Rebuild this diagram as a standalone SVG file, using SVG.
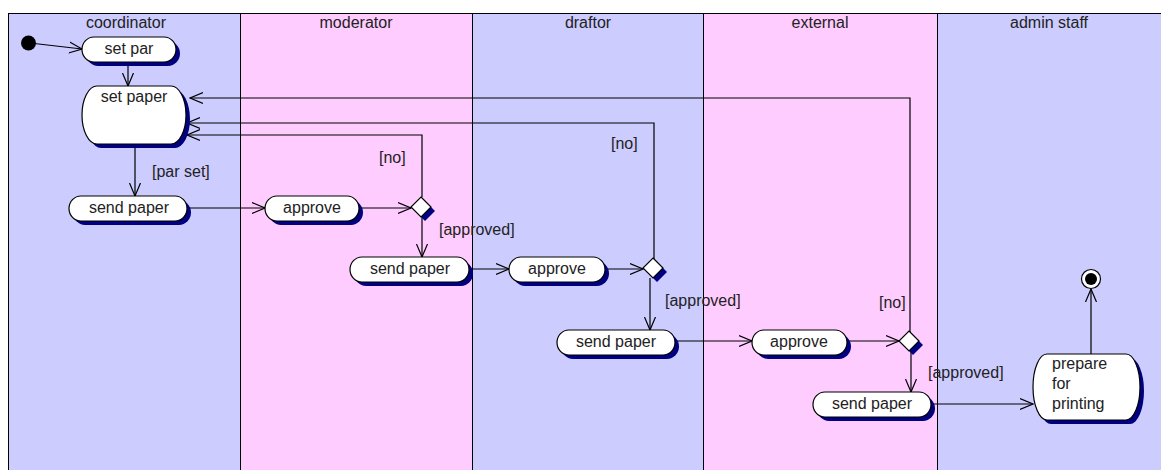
<svg xmlns="http://www.w3.org/2000/svg" width="1161" height="470" viewBox="0 0 1161 470">
  <style>
    .lane-a { fill: #ccccff; stroke: #000; stroke-width: 1; }
    .lane-b { fill: #ffccff; stroke: #000; stroke-width: 1; }
    .title { font-family: "Liberation Sans", Arial, sans-serif; font-size: 16px; fill: #222; text-anchor: middle; }
    .lbl { font-family: "Liberation Sans", Arial, sans-serif; font-size: 16px; fill: #222; }
    .ctr { text-anchor: middle; }
    .shadow { fill: #000080; }
    .box { fill: #fff; stroke: #000; stroke-width: 1.2; }
    .edge { fill: none; stroke: #000; stroke-width: 1.2; marker-end: url(#open); }
  </style>
  <defs>
    <marker id="open" viewBox="0 0 14 14" refX="13" refY="7" markerWidth="14" markerHeight="14" markerUnits="userSpaceOnUse" orient="auto">
      <path d="M0,1.5 L13,7 L0,12.5" fill="none" stroke="#000" stroke-width="1.2"/>
    </marker>
  </defs>

  <!-- swimlanes -->
  <g id="lanes">
    <rect class="lane-a" x="8.5" y="13.5" width="232" height="470"/>
    <rect class="lane-b" x="240.5" y="13.5" width="232" height="470"/>
    <rect class="lane-a" x="472.5" y="13.5" width="231" height="470"/>
    <rect class="lane-b" x="703.5" y="13.5" width="234" height="470"/>
    <rect class="lane-a" x="937.5" y="13.5" width="240" height="470"/>
    <text class="title" x="126" y="28">coordinator</text>
    <text class="title" x="356" y="28">moderator</text>
    <text class="title" x="588" y="28">draftor</text>
    <text class="title" x="820" y="28">external</text>
    <text class="title" x="1049" y="28">admin staff</text>
  </g>

  <!-- connectors -->
  <g id="connectors">
    <path class="edge" d="M30,43 L82,49"/>
    <path class="edge" d="M128,62 L128,86"/>
    <path class="edge" d="M135,144 L135,196"/>
    <path class="edge" d="M188,208 L265,208"/>
    <path class="edge" d="M359,208 L411,208"/>
    <path class="edge" d="M422,217 L422,257"/>
    <path class="edge" d="M422,197 L422,135 L187,135"/>
    <path class="edge" d="M469,269 L509,269"/>
    <path class="edge" d="M605,269 L643,269"/>
    <path class="edge" d="M650,278 L650,330"/>
    <path class="edge" d="M654,259 L654,123 L187,123"/>
    <path class="edge" d="M675,341 L752,341"/>
    <path class="edge" d="M847,341 L899,341"/>
    <path class="edge" d="M911,350 L911,392"/>
    <path class="edge" d="M910,332 L910,98 L190,98"/>
    <path class="edge" d="M931,404 L1033,404"/>
    <path class="edge" d="M1091,354 L1091,289"/>
    <text class="lbl" x="152" y="177">[par set]</text>
    <text class="lbl" x="379" y="163">[no]</text>
    <text class="lbl" x="611" y="149">[no]</text>
    <text class="lbl" x="439" y="235">[approved]</text>
    <text class="lbl" x="665" y="306">[approved]</text>
    <text class="lbl" x="879" y="308">[no]</text>
    <text class="lbl" x="928" y="378">[approved]</text>
  </g>

  <!-- start / end -->
  <g id="start">
    <circle cx="28.5" cy="43" r="7.5" fill="#000"/>
  </g>
  <g id="end">
    <circle cx="1091" cy="279" r="9.5" fill="#fff" stroke="#000" stroke-width="1.2"/>
    <circle cx="1091" cy="279" r="6" fill="#000"/>
  </g>

  <!-- activities -->
  <g id="set-par">
    <rect class="shadow" x="86" y="41" width="94" height="25" rx="12" ry="12.5"/>
    <rect class="box" x="82" y="37" width="94" height="25" rx="12" ry="12.5"/>
    <text class="lbl ctr" x="129" y="54">set par</text>
  </g>
  <g id="set-paper">
    <rect class="shadow" x="86" y="90" width="104" height="58" rx="15" ry="29"/>
    <rect class="box" x="82" y="86" width="104" height="58" rx="15" ry="29"/>
    <text class="lbl ctr" x="134" y="102">set paper</text>
  </g>
  <g id="send-paper-1">
    <rect class="shadow" x="73" y="200" width="118" height="25" rx="12" ry="12.5"/>
    <rect class="box" x="69" y="196" width="118" height="25" rx="12" ry="12.5"/>
    <text class="lbl ctr" x="129" y="213">send paper</text>
  </g>
  <g id="approve-1">
    <rect class="shadow" x="269" y="200" width="94" height="25" rx="12" ry="12.5"/>
    <rect class="box" x="265" y="196" width="94" height="25" rx="12" ry="12.5"/>
    <text class="lbl ctr" x="312" y="213">approve</text>
  </g>
  <g id="decision-1">
    <path class="shadow" d="M425,201 L435,211 L425,221 L415,211 Z"/>
    <path class="box" d="M421,197 L431,207 L421,217 L411,207 Z"/>
  </g>
  <g id="send-paper-2">
    <rect class="shadow" x="354" y="261" width="119" height="25" rx="12" ry="12.5"/>
    <rect class="box" x="350" y="257" width="119" height="25" rx="12" ry="12.5"/>
    <text class="lbl ctr" x="410" y="274">send paper</text>
  </g>
  <g id="approve-2">
    <rect class="shadow" x="513" y="261" width="96" height="25" rx="12" ry="12.5"/>
    <rect class="box" x="509" y="257" width="96" height="25" rx="12" ry="12.5"/>
    <text class="lbl ctr" x="557" y="274">approve</text>
  </g>
  <g id="decision-2">
    <path class="shadow" d="M657,262 L667,272 L657,282 L647,272 Z"/>
    <path class="box" d="M653,258 L663,268 L653,278 L643,268 Z"/>
  </g>
  <g id="send-paper-3">
    <rect class="shadow" x="561" y="334" width="118" height="25" rx="12" ry="12.5"/>
    <rect class="box" x="557" y="330" width="118" height="25" rx="12" ry="12.5"/>
    <text class="lbl ctr" x="616" y="347">send paper</text>
  </g>
  <g id="approve-3">
    <rect class="shadow" x="756" y="334" width="95" height="25" rx="12" ry="12.5"/>
    <rect class="box" x="752" y="330" width="95" height="25" rx="12" ry="12.5"/>
    <text class="lbl ctr" x="799" y="347">approve</text>
  </g>
  <g id="decision-3">
    <path class="shadow" d="M913,335 L923,345 L913,355 L903,345 Z"/>
    <path class="box" d="M909,331 L919,341 L909,351 L899,341 Z"/>
  </g>
  <g id="send-paper-4">
    <rect class="shadow" x="817" y="396" width="118" height="25" rx="12" ry="12.5"/>
    <rect class="box" x="813" y="392" width="118" height="25" rx="12" ry="12.5"/>
    <text class="lbl ctr" x="872" y="409">send paper</text>
  </g>
  <g id="prepare-for-printing">
    <rect class="shadow" x="1037" y="358" width="107" height="66" rx="14" ry="33"/>
    <rect class="box" x="1033" y="354" width="107" height="66" rx="14" ry="33"/>
    <text class="lbl" x="1052" y="369">prepare</text>
    <text class="lbl" x="1052" y="389">for</text>
    <text class="lbl" x="1052" y="409">printing</text>
  </g>
</svg>
